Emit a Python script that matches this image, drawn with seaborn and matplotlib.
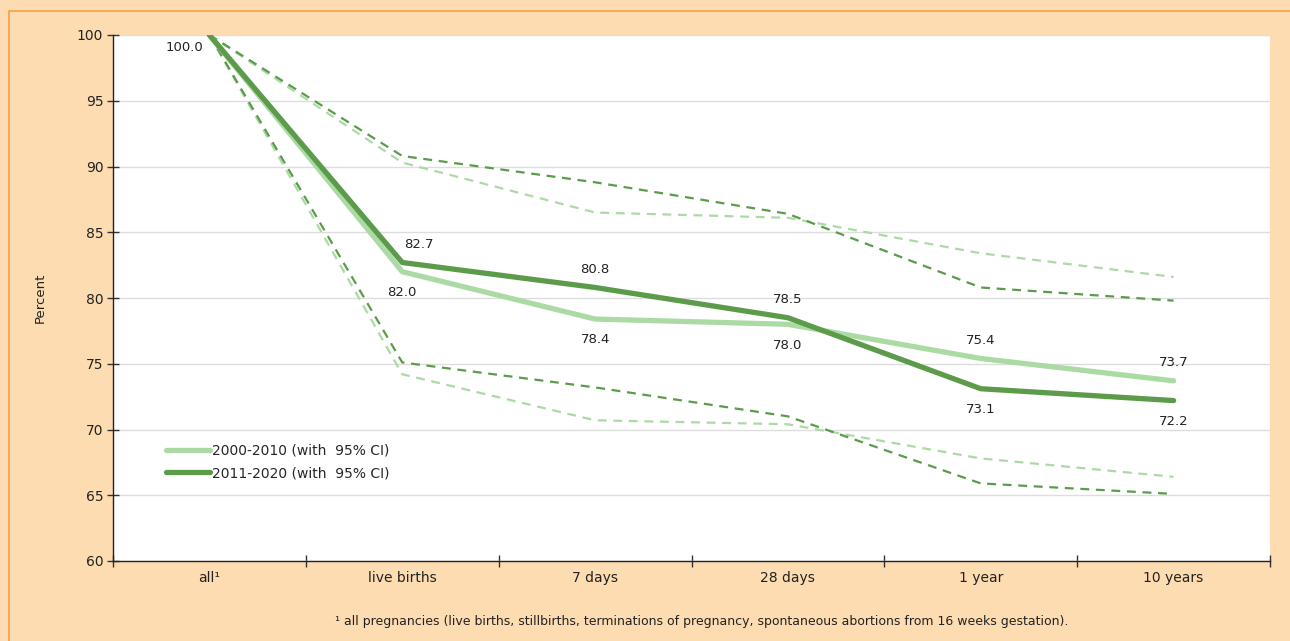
import numpy as np
import pandas as pd
import matplotlib
matplotlib.use('Agg')
import matplotlib.pyplot as plt
import matplotlib.patches as mpatches
import seaborn as sns

# Survival by stage, two periods, with 95% CI
stages = ['all\u00b9', 'live births', '7 days', '28 days', '1 year', '10 years']
p1_label = '2000-2010 (with  95% CI)'
p2_label = '2011-2020 (with  95% CI)'

p1_est = [100.0, 82.0, 78.4, 78.0, 75.4, 73.7]
p1_lo = [100.0, 74.2, 70.7, 70.4, 67.8, 66.4]
p1_hi = [100.0, 90.3, 86.5, 86.1, 83.4, 81.6]

p2_est = [100.0, 82.7, 80.8, 78.5, 73.1, 72.2]
p2_lo = [100.0, 75.1, 73.2, 71.0, 65.9, 65.1]
p2_hi = [100.0, 90.8, 88.8, 86.4, 80.8, 79.8]

footnote = ('\u00b9 all pregnancies (live births, stillbirths, terminations of pregnancy, '
            'spontaneous abortions from 16 weeks gestation).')

light = '#acdaa5'
dark = '#5b9b4a'
bg = '#fddcb1'

sns.set_theme(style='white')
plt.rcParams['font.family'] = ['DejaVu Sans']

x = np.arange(len(stages))
df = pd.DataFrame({
    'x': np.concatenate([x, x]),
    'est': p1_est + p2_est,
    'lo': p1_lo + p2_lo,
    'hi': p1_hi + p2_hi,
    'period': [p1_label] * len(x) + [p2_label] * len(x),
})

fig = plt.figure(figsize=(12.9, 6.41), dpi=100, facecolor=bg)
ax = fig.add_axes([113 / 1290, 1 - 561 / 641, (1270 - 113) / 1290, (561 - 35) / 641])
ax.set_facecolor('white')

# border round the panel
fig.patches.append(mpatches.Rectangle((9 / 1290, -0.01), 1.02, 1 - 11 / 641 + 0.01,
                                      transform=fig.transFigure, fill=False,
                                      edgecolor='#f5a040', lw=1.2, zorder=0))

palette = {p1_label: light, p2_label: dark}

# CI bounds (dashed)
for col in ['lo', 'hi']:
    sns.lineplot(data=df, x='x', y=col, hue='period', palette=palette, ax=ax,
                 legend=False, lw=1.6, dashes=False, linestyle=(0, (4, 3)))

# estimates
sns.lineplot(data=df, x='x', y='est', hue='period', palette=palette, ax=ax,
             lw=3.8, solid_capstyle='round')

# value labels: higher one above, lower one below
for i in x:
    a, b = p1_est[i], p2_est[i]
    if i == 0:
        ax.annotate(f'{a:.1f}', (i, a), xytext=(-18, -9), textcoords='offset points',
                    ha='center', va='center', fontsize=9.5, color='#222222')
        continue
    hi_v, lo_v = max(a, b), min(a, b)
    dx_hi = 12 if i == 1 else 0
    ax.annotate(f'{hi_v:.1f}', (i, hi_v), xytext=(dx_hi, 13), textcoords='offset points',
                ha='center', va='center', fontsize=9.5, color='#222222')
    ax.annotate(f'{lo_v:.1f}', (i, lo_v), xytext=(0, -15), textcoords='offset points',
                ha='center', va='center', fontsize=9.5, color='#222222')

ax.set_xlim(-0.5, len(stages) - 0.5)
ax.set_ylim(60, 100)
ax.set_yticks(range(60, 101, 5))
ax.set_xticks(np.arange(-0.5, len(stages)), labels=[''] * (len(stages) + 1))
ax.set_xticks(x, labels=stages, minor=True)
ax.tick_params(axis='x', which='major', bottom=True, direction='inout', length=9,
               width=1, color='#333333')
ax.tick_params(axis='x', which='minor', bottom=True, length=0, labelsize=10, pad=7,
               labelcolor='#222222')
ax.tick_params(axis='y', left=True, direction='inout', length=8, width=1, color='#333333',
               labelsize=10, labelcolor='#222222', pad=3)
ax.yaxis.grid(True, color='#dddddd', lw=1)
ax.set_axisbelow(True)
for s in ['top', 'right']:
    ax.spines[s].set_visible(False)
for s in ['left', 'bottom']:
    ax.spines[s].set_color('#222222')
    ax.spines[s].set_linewidth(1)
ax.set_xlabel('')
ax.set_ylabel('Percent', fontsize=9.5, color='#222222', labelpad=22)

leg = ax.legend(loc='lower left', bbox_to_anchor=(0.035, 0.13), frameon=False,
                fontsize=10, handlelength=3.2, handletextpad=0.1, labelspacing=0.6)
for h in leg.get_lines():
    h.set_linewidth(3.8)

fig.text(702 / 1290, 1 - 621 / 641, footnote, ha='center', va='center',
         fontsize=9, color='#222222')

fig.savefig('out.png', dpi=100, facecolor=bg)
